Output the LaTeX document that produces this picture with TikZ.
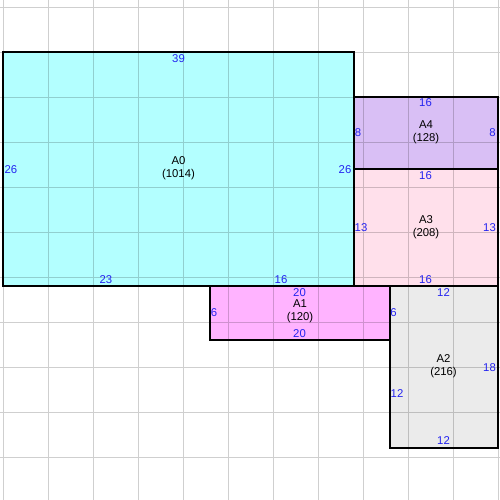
\documentclass[tikz,border=0pt]{standalone}
\usepackage{fontspec}
\setmainfont{Liberation Sans}

\tikzset{every picture/.style={line width=0.75pt}}
\tikzset{
  dimlbl/.style={color={rgb, 255:red, 36; green, 36; blue, 240 }, inner sep=0pt, font=\fontsize{8.5}{10}\selectfont},
  arealbl/.style={align=center, inner sep=0pt, font=\fontsize{8.5}{10}\selectfont},
  sheet/.style={draw=black, line width=0.9}
}

\begin{document}
\begin{tikzpicture}[x=0.75pt,y=0.75pt,yscale=-1,xscale=1]
\useasboundingbox (0,0) rectangle (500,500);

%Shape: Rectangle A0
\path [fill={rgb, 255:red, 179; green, 255; blue, 255 }] (3,52) rectangle (354,286) ;
%Shape: Rectangle A4
\path [fill={rgb, 255:red, 217; green, 191; blue, 245 }] (354,97) rectangle (498,169) ;
%Shape: Rectangle A3
\path [fill={rgb, 255:red, 255; green, 224; blue, 235 }] (354,169) rectangle (498,286) ;
%Shape: Rectangle A1
\path [fill={rgb, 255:red, 255; green, 179; blue, 255 }] (210,286) rectangle (390,340) ;
%Shape: Rectangle A2
\path [fill={rgb, 255:red, 235; green, 235; blue, 235 }] (390,286) rectangle (498,448) ;

%Shape: Grid
\draw [color={rgb, 255:red, 0; green, 0; blue, 0 }, draw opacity=0.19] (3,0) -- (3,500)(48,0) -- (48,500)(93,0) -- (93,500)(138,0) -- (138,500)(183,0) -- (183,500)(228,0) -- (228,500)(273,0) -- (273,500)(318,0) -- (318,500)(363,0) -- (363,500)(408,0) -- (408,500)(453,0) -- (453,500)(498,0) -- (498,500) (0,7) -- (500,7)(0,52) -- (500,52)(0,97) -- (500,97)(0,142) -- (500,142)(0,187) -- (500,187)(0,232) -- (500,232)(0,277) -- (500,277)(0,322) -- (500,322)(0,367) -- (500,367)(0,412) -- (500,412)(0,457) -- (500,457) ;

%Shape: Rectangle borders
\draw [sheet] (3,52) rectangle (354,286) ;
\draw [sheet] (354,97) rectangle (498,169) ;
\draw [sheet] (354,169) rectangle (498,286) ;
\draw [sheet] (210,286) rectangle (390,340) ;
\draw [sheet] (390,286) rectangle (498,448) ;

% Text Node
\draw (178.5,168) node [arealbl] (nameA0) {A0\\(1014)};
% Text Node
\draw (178.5,59) node [dimlbl] (topA0) {39};
% Text Node
\draw (11,170) node [dimlbl] (leftA0) {26};
% Text Node
\draw (345,170) node [dimlbl] (rightA0) {26};
% Text Node
\draw (106,280) node [dimlbl] (botA0a) {23};
% Text Node
\draw (281,280) node [dimlbl] (botA0b) {16};

% Text Node
\draw (426,132) node [arealbl] (nameA4) {A4\\(128)};
% Text Node
\draw (425.5,103) node [dimlbl] (topA4) {16};
% Text Node
\draw (358,133) node [dimlbl] (leftA4) {8};
% Text Node
\draw (492.5,133) node [dimlbl] (rightA4) {8};

% Text Node
\draw (426,227) node [arealbl] (nameA3) {A3\\(208)};
% Text Node
\draw (425.5,176) node [dimlbl] (topA3) {16};
% Text Node
\draw (361,228) node [dimlbl] (leftA3) {13};
% Text Node
\draw (489.5,228) node [dimlbl] (rightA3) {13};
% Text Node
\draw (425.5,280) node [dimlbl] (botA3) {16};

% Text Node
\draw (300,311) node [arealbl] (nameA1) {A1\\(120)};
% Text Node
\draw (299.5,293) node [dimlbl] (topA1) {20};
% Text Node
\draw (214,313) node [dimlbl] (leftA1) {6};
% Text Node
\draw (299.5,334) node [dimlbl] (botA1) {20};

% Text Node
\draw (443.5,366) node [arealbl] (nameA2) {A2\\(216)};
% Text Node
\draw (443.5,293) node [dimlbl] (topA2) {12};
% Text Node
\draw (393.5,313) node [dimlbl] (leftA2a) {6};
% Text Node
\draw (397,394) node [dimlbl] (leftA2b) {12};
% Text Node
\draw (489.5,368) node [dimlbl] (rightA2) {18};
% Text Node
\draw (443.5,441) node [dimlbl] (botA2) {12};

\end{tikzpicture}
\end{document}
